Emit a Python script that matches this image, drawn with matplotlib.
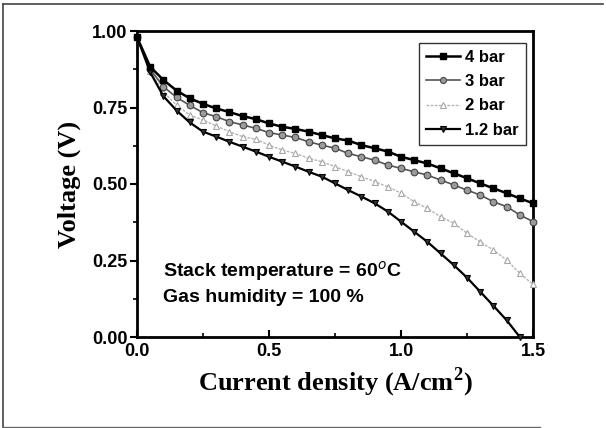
import matplotlib
matplotlib.use("Agg")
import matplotlib.pyplot as plt
from matplotlib.lines import Line2D

plt.rcParams["mathtext.fontset"] = "custom"
plt.rcParams["mathtext.rm"] = "Liberation Serif"
plt.rcParams["mathtext.bf"] = "Liberation Serif:bold"

current = [0.00, 0.05, 0.10, 0.15, 0.20, 0.25, 0.30, 0.35, 0.40, 0.45, 0.50,
           0.55, 0.60, 0.65, 0.70, 0.75, 0.80, 0.85, 0.90, 0.95, 1.00,
           1.05, 1.10, 1.15, 1.20, 1.25, 1.30, 1.35, 1.40, 1.45, 1.50]

v_4bar = [0.98, 0.883, 0.84, 0.805, 0.78, 0.762, 0.747, 0.735, 0.722, 0.712, 0.698,
          0.687, 0.680, 0.671, 0.660, 0.649, 0.642, 0.627, 0.617, 0.606, 0.589,
          0.578, 0.567, 0.551, 0.535, 0.519, 0.502, 0.486, 0.470, 0.453, 0.437]

v_3bar = [0.98, 0.875, 0.818, 0.783, 0.757, 0.733, 0.720, 0.704, 0.693, 0.682, 0.668,
          0.660, 0.652, 0.638, 0.627, 0.617, 0.600, 0.589, 0.578, 0.562, 0.551,
          0.540, 0.529, 0.513, 0.497, 0.480, 0.464, 0.442, 0.426, 0.399, 0.377]

v_2bar = [0.98, 0.870, 0.800, 0.758, 0.725, 0.709, 0.690, 0.671, 0.655, 0.646, 0.627,
          0.611, 0.600, 0.584, 0.573, 0.557, 0.540, 0.524, 0.508, 0.491, 0.470,
          0.442, 0.420, 0.393, 0.372, 0.339, 0.311, 0.284, 0.252, 0.208, 0.172]

current_12 = current[:30]
v_12bar = [0.98, 0.865, 0.787, 0.740, 0.701, 0.671, 0.655, 0.638, 0.622, 0.606, 0.589,
           0.573, 0.557, 0.540, 0.524, 0.502, 0.480, 0.459, 0.437, 0.410, 0.377,
           0.344, 0.311, 0.273, 0.235, 0.194, 0.148, 0.102, 0.055, 0.0]

labels = ["4 bar", "3 bar", "2 bar", "1.2 bar"]
x_ticks = [0.0, 0.5, 1.0, 1.5]
x_tick_labels = ["0.0", "0.5", "1.0", "1.5"]
y_ticks = [0.00, 0.25, 0.50, 0.75, 1.00]
y_tick_labels = ["0.00", "0.25", "0.50", "0.75", "1.00"]

W, H = 606, 428
fig = plt.figure(figsize=(W / 100, H / 100), dpi=100)
ax = fig.add_axes([137 / W, 1 - 337 / H, 396 / W, 306 / H])

sans = "Liberation Sans"
serif = "Liberation Serif"

ax.plot(current, v_4bar, color="black", lw=1.8, marker="s", ms=4.6,
        mfc="black", mec="black", label=labels[0], clip_on=False, zorder=5)
ax.plot(current, v_3bar, color="#555555", lw=1.2, marker="o", ms=4.8,
        mfc="#9a9a9a", mec="#444444", mew=0.8, label=labels[1], clip_on=False, zorder=4)
ax.plot(current, v_2bar, color="#b4b4b4", lw=1.0, ls=(0, (2, 1)), marker="^", ms=4.5,
        mfc="white", mec="#a8a8a8", mew=0.8, label=labels[2], clip_on=False, zorder=3)
ax.plot(current_12, v_12bar, color="black", lw=1.6, marker="v", ms=5,
        mfc="#333333", mec="black", mew=0.8, label=labels[3], clip_on=False, zorder=4)

ax.set_xlim(0, 1.5)
ax.set_ylim(0, 1.0)
ax.set_xticks(x_ticks)
ax.set_xticklabels(x_tick_labels)
ax.set_yticks(y_ticks)
ax.set_yticklabels(y_tick_labels)
ax.set_xticks([0.25, 0.75, 1.25], minor=True)
ax.set_yticks([0.125, 0.375, 0.625, 0.875], minor=True)

for s in ax.spines.values():
    s.set_linewidth(2.0)

ax.tick_params(axis="y", which="major", direction="out", length=5, width=1.5)
ax.tick_params(axis="y", which="minor", direction="out", length=3, width=1.2)
ax.tick_params(axis="x", which="major", direction="in", length=5, width=1.5)
ax.tick_params(axis="x", which="minor", direction="in", length=3, width=1.2)
ax.tick_params(axis="x", pad=4)
ax.tick_params(axis="y", pad=2)
for lab in ax.get_xticklabels() + ax.get_yticklabels():
    lab.set_fontfamily(sans)
    lab.set_fontweight("bold")
    lab.set_fontsize(13)

ax.set_xlabel("Current density (A/cm$^{\\mathbf{2}}$)", fontfamily=serif,
              fontweight="bold", fontsize=19, labelpad=4)
ax.set_ylabel("Voltage (V)", fontfamily=serif, fontweight="bold",
              fontsize=19, labelpad=8)

ax.text(0.066, 0.215, "Stack temperature = 60$^{o}$C", transform=ax.transAxes,
        fontfamily=sans, fontweight="bold", fontsize=14, va="center",
        math_fontfamily="dejavusans")
ax.text(0.066, 0.13, "Gas humidity = 100 %", transform=ax.transAxes,
        fontfamily=sans, fontweight="bold", fontsize=14, va="center")

leg = ax.legend(loc="upper left", bbox_to_anchor=(0.712, 0.962),
                prop={"family": sans, "weight": "bold", "size": 12},
                frameon=True, fancybox=False, edgecolor="black",
                handlelength=2.0, handletextpad=0.3, labelspacing=0.55,
                borderpad=0.45, borderaxespad=0.0, markerscale=0.9)
leg.get_frame().set_linewidth(1.0)

# outer frame of the figure
fig.add_artist(Line2D([3 / W, 603 / W], [1 - 4 / H, 1 - 4 / H], color="#444444", lw=1.2))
fig.add_artist(Line2D([3 / W, 3 / W], [1 - 4 / H, 1 - 427 / H], color="#444444", lw=1.2))
fig.add_artist(Line2D([3 / W, 540 / W], [1 - 427 / H, 1 - 427 / H], color="#666666", lw=1.0))

fig.savefig("out.png", dpi=100)
